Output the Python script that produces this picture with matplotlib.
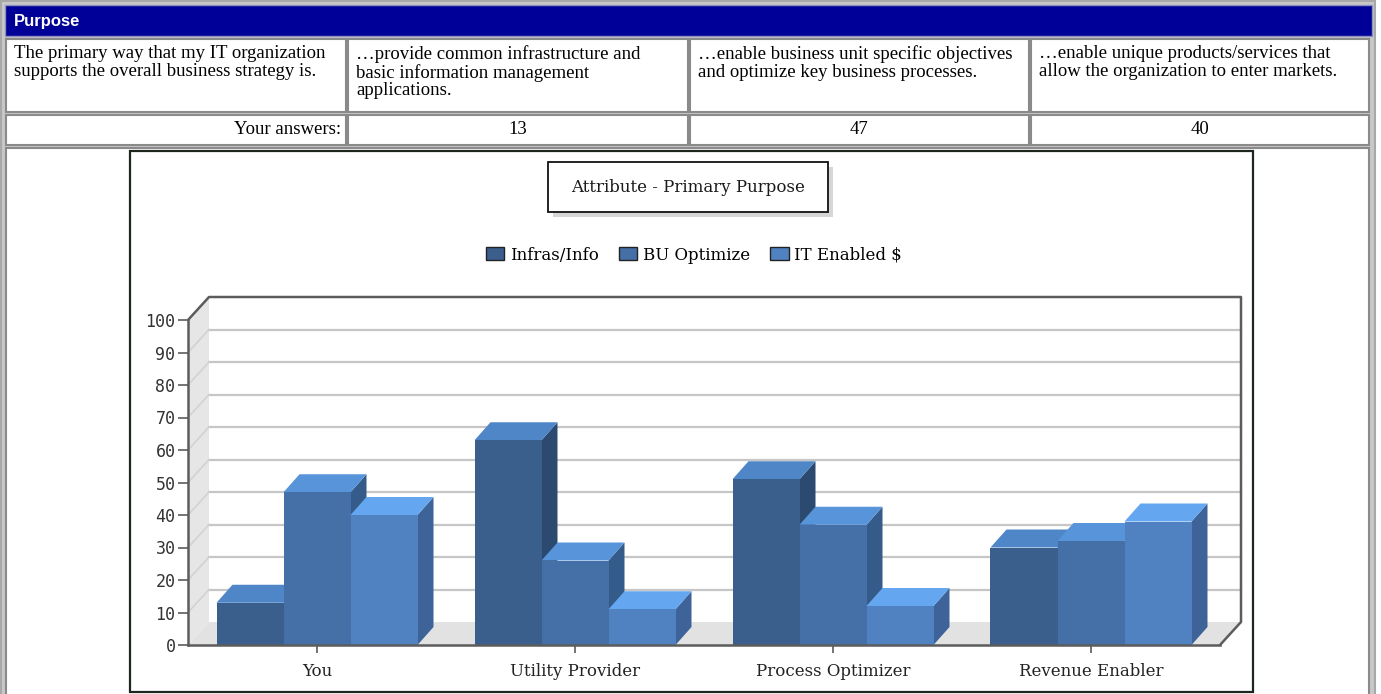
import matplotlib
matplotlib.use("Agg")
from matplotlib import pyplot as plt
from matplotlib.patches import Rectangle, Polygon, Patch

W, H = 1381, 694

categories = ["You", "Utility Provider", "Process Optimizer", "Revenue Enabler"]
series_names = ["Infras/Info", "BU Optimize", "IT Enabled $"]
infras_info = [13, 63, 51, 30]
bu_optimize = [47, 26, 37, 32]
it_enabled = [40, 11, 12, 38]

question = "The primary way that my IT organization\nsupports the overall business strategy is."
answers = [
    "\u2026provide common infrastructure and\nbasic information management\napplications.",
    "\u2026enable business unit specific objectives\nand optimize key business processes.",
    "\u2026enable unique products/services that\nallow the organization to enter markets.",
]

# face colours per series: front, top, side
front_cols = ["#3b5f8c", "#4570a7", "#5082c2"]
top_cols = ["#4f86c8", "#5894da", "#64a6f0"]
side_cols = ["#2c4a6f", "#345b8a", "#3d6398"]

fig = plt.figure(figsize=(W / 100, H / 100), dpi=100)
fig.patch.set_facecolor("white")

# page layer in pixel units for the html-like table
bg = fig.add_axes([0, 0, 1, 1])
bg.set_xlim(0, W)
bg.set_ylim(H, 0)
bg.axis("off")

bg.add_patch(Rectangle((1, 1), 1374, 700, facecolor="#c8c8c8", edgecolor="#a8a8a8", lw=1.5))
bg.add_patch(Rectangle((5, 5), 1367, 31, facecolor="#000099", edgecolor="#8f8fbf", lw=1))
bg.text(14, 21, "Purpose", color="white", fontsize=12, fontweight="bold",
        family="Liberation Sans", va="center", ha="left")

cols = [(6, 346), (348, 688), (690, 1029), (1031, 1369)]
rows = [(39, 112), (115, 145), (148, 700)]


def cell(x0, x1, y0, y1):
    bg.add_patch(Rectangle((x0, y0), x1 - x0, y1 - y0, facecolor="white",
                           edgecolor="#8a8a8a", lw=1.5))


for c0, c1 in cols:
    cell(c0, c1, *rows[0])
    cell(c0, c1, *rows[1])
cell(cols[0][0], cols[3][1], *rows[2])

serif = "Liberation Serif"
cell_fs = 13.5
bg.text(cols[0][0] + 8, 45, question, fontsize=cell_fs, family=serif, va="top", ha="left", linespacing=1.06)
for (c0, c1), txt in zip(cols[1:], answers):
    bg.text(c0 + 8, 45, txt, fontsize=cell_fs, family=serif, va="top", ha="left", linespacing=1.06)

bg.text(cols[0][1] - 5, 129, "Your answers:", fontsize=cell_fs, family=serif, va="center", ha="right")
you_vals = [infras_info[0], bu_optimize[0], it_enabled[0]]
for (c0, c1), v in zip(cols[1:], you_vals):
    bg.text((c0 + c1) / 2, 129, str(v), fontsize=cell_fs, family=serif, va="center", ha="center")

# chart panel
bg.add_patch(Rectangle((130, 151), 1123, 541, facecolor="white", edgecolor="#1d261d", lw=1.6, zorder=2))
bg.add_patch(Rectangle((553, 167), 280, 50, facecolor="#d6d6d6", edgecolor="none", zorder=2))
bg.add_patch(Rectangle((548, 162), 280, 50, facecolor="white", edgecolor="#111111", lw=1.3, zorder=3))
bg.text(688, 187, "Attribute - Primary Purpose", fontsize=12, family="DejaVu Serif",
        ha="center", va="center", color="#1a1a1a", zorder=4)

# plot area: front face of the 3D box
ax = fig.add_axes([188 / W, (H - 645) / H, (1220 - 188) / W, (645 - 320) / H])
ax.set_xlim(-0.5, 3.5)
ax.set_ylim(0, 100)
ax.patch.set_alpha(0)

px_x = (1220 - 188) / 4.0
px_y = (645 - 320) / 100.0
dxw, dyw = 21 / px_x, 23 / px_y   # wall depth
dxb, dyb = 16 / px_x, 18 / px_y   # bar depth
bw = 67 / px_x

x_lo, x_hi = -0.5, 3.5
# floor and left wall
ax.add_patch(Polygon([(x_lo, 0), (x_hi, 0), (x_hi + dxw, dyw), (x_lo + dxw, dyw)],
                     closed=True, facecolor="#e2e2e2", edgecolor="none", zorder=0, clip_on=False))
ax.add_patch(Polygon([(x_lo, 0), (x_lo, 100), (x_lo + dxw, 100 + dyw), (x_lo + dxw, dyw)],
                     closed=True, facecolor="#e6e6e6", edgecolor="none", zorder=0, clip_on=False))

for v in range(10, 100, 10):
    ax.plot([x_lo + dxw, x_hi + dxw], [v + dyw, v + dyw], color="#c6c6c6", lw=1.6, zorder=1, clip_on=False)
    ax.plot([x_lo, x_lo + dxw], [v, v + dyw], color="#d2d2d2", lw=1.2, zorder=1, clip_on=False)

frame = dict(color="#5c5c5c", lw=1.8, zorder=6, clip_on=False, solid_capstyle="butt")
ax.plot([x_lo, x_lo + dxw, x_hi + dxw, x_hi + dxw, x_hi], [100, 100 + dyw, 100 + dyw, dyw, 0], **frame)

series = [infras_info, bu_optimize, it_enabled]
for i in range(len(categories)):
    for j, vals in enumerate(series):
        h = vals[i]
        x0 = i + (j - 1.5) * bw
        x1 = x0 + bw
        z = 3 + i * 0.5 + j * 0.1
        ax.add_patch(Polygon([(x1, 0), (x1 + dxb, dyb), (x1 + dxb, h + dyb), (x1, h)],
                             closed=True, facecolor=side_cols[j], edgecolor="none", zorder=z, clip_on=False))
        ax.add_patch(Polygon([(x0, h), (x1, h), (x1 + dxb, h + dyb), (x0 + dxb, h + dyb)],
                             closed=True, facecolor=top_cols[j], edgecolor="none", zorder=z, clip_on=False))
        ax.bar(x0, h, width=bw, align="edge", color=front_cols[j], edgecolor="none", zorder=z + 0.01)

for s in ["top", "right"]:
    ax.spines[s].set_visible(False)
for s in ["left", "bottom"]:
    ax.spines[s].set_color("#5c5c5c")
    ax.spines[s].set_linewidth(1.8)
    ax.spines[s].set_zorder(7)

ax.set_yticks(range(0, 101, 10))
ax.set_xticks(range(len(categories)))
ax.set_xticklabels(categories, family="DejaVu Serif", fontsize=12, color="#222222")
ax.tick_params(axis="y", direction="out", length=7, width=1.2, color="#5c5c5c",
               labelsize=12, labelcolor="#333333", pad=2)
ax.tick_params(axis="x", direction="out", length=6, width=1.2, color="#5c5c5c", pad=7)
for lab in ax.get_yticklabels():
    lab.set_family("DejaVu Sans Mono")

handles = [Patch(facecolor=front_cols[j], edgecolor="#222222", lw=1) for j in range(3)]
fig.legend(handles, series_names, loc="center", bbox_to_anchor=(694 / W, 1 - 255 / H), ncol=3,
           frameon=False, prop={"family": "DejaVu Serif", "size": 12}, handlelength=1.1,
           handleheight=0.8, columnspacing=1.2, handletextpad=0.35)

fig.savefig("out.png", dpi=100)
